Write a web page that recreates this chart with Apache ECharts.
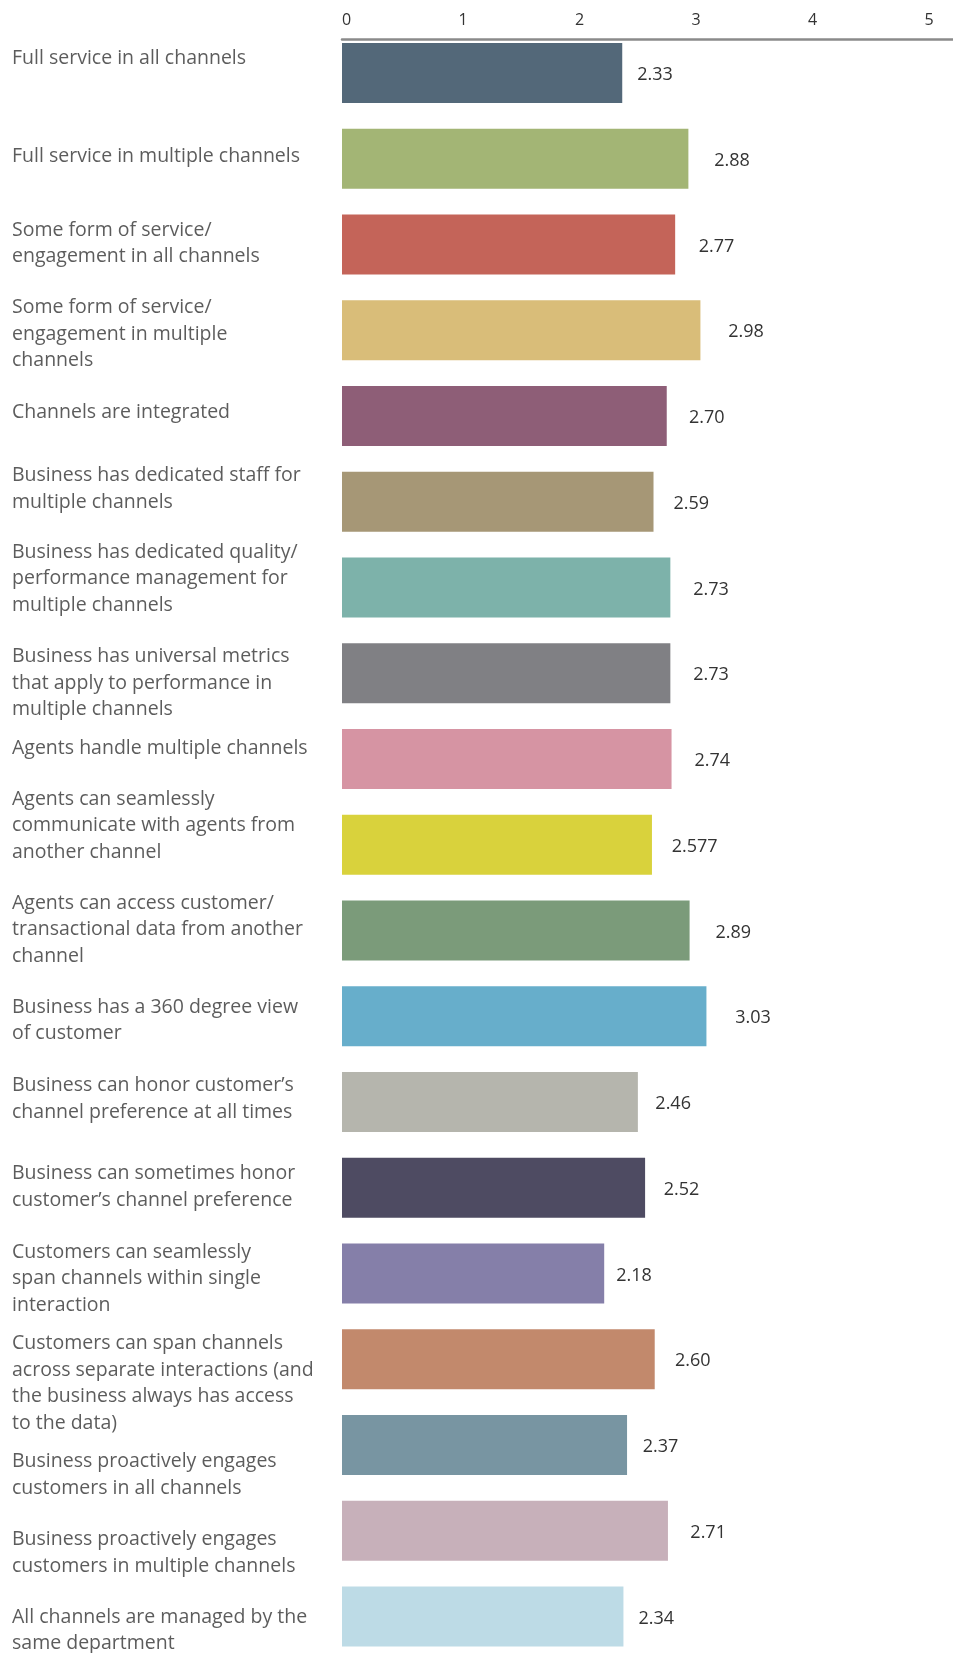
<!DOCTYPE html>
<html>
<head>
<meta charset="utf-8">
<script src="https://cdn.jsdelivr.net/npm/echarts@6/dist/echarts.min.js"></script>
<style>
  html, body { margin: 0; padding: 0; background: #ffffff; }
  #chart { width: 953px; height: 1653px; }
</style>
</head>
<body>
<div id="chart"></div>
<script>
// Omnichannel capability statements and their average scores (0–5 scale)
const categories = [
  "Full service in all channels",
  "Full service in multiple channels",
  "Some form of service/\nengagement in all channels",
  "Some form of service/\nengagement in multiple\nchannels",
  "Channels are integrated",
  "Business has dedicated staff for\nmultiple channels",
  "Business has dedicated quality/\nperformance management for\nmultiple channels",
  "Business has universal metrics\nthat apply to performance in\nmultiple channels",
  "Agents handle multiple channels",
  "Agents can seamlessly\ncommunicate with agents from\nanother channel",
  "Agents can access customer/\ntransactional data from another\nchannel",
  "Business has a 360 degree view\nof customer",
  "Business can honor customer\u2019s\nchannel preference at all times",
  "Business can sometimes honor\ncustomer\u2019s channel preference",
  "Customers can seamlessly\nspan channels within single\ninteraction",
  "Customers can span channels\nacross separate interactions (and\nthe business always has access\nto the data)",
  "Business proactively engages\ncustomers in all channels",
  "Business proactively engages\ncustomers in multiple channels",
  "All channels are managed by the\nsame department"
];

const scores = [
  2.33, 2.88, 2.77, 2.98, 2.70, 2.59, 2.73, 2.73, 2.74, 2.577,
  2.89, 3.03, 2.46, 2.52, 2.18, 2.60, 2.37, 2.71, 2.34
];

const barColors = [
  "#536879", "#a3b575", "#c46459", "#d9bd79", "#8e5e77",
  "#a69776", "#7db2aa", "#808084", "#d694a3", "#d9d23c",
  "#7b9b7a", "#67aecb", "#b5b5ad", "#4e4b62", "#857fa9",
  "#c2896c", "#7895a2", "#c7b0ba", "#bddbe6"
];

const tickLabels = [0, 1, 2, 3, 4, 5];

// ---- presentation ----
const FONT = '"Open Sans", "Noto Sans", sans-serif';
const TEXT = "#333333";

// captions sit a little above or below the middle of their bar
const captionShift = [-15, -2, -1, 4, -4, -13, -9, 10, -11, -19, -1, 4, -3, -1, 5, 24, 30, 22, 14];

function formatScore(v) {
  const decimals = (String(v).split(".")[1] || "").length;
  return decimals >= 2 ? String(v) : v.toFixed(2);
}

const barData = scores.map((v, i) => ({
  value: v,
  itemStyle: { color: barColors[i] },
  // value captions spread a little further out as the score grows
  label: { distance: Math.max(8, 19.7 * v - 31) }
}));

// one invisible anchor per row at the zero line, carrying the row caption
const captionData = categories.map((name, i) => ({
  value: [0, name],
  label: { offset: [0, captionShift[i]] }
}));

const chart = echarts.init(document.getElementById("chart"), null, { renderer: "canvas" });

chart.setOption({
  animation: false,
  backgroundColor: "#ffffff",
  textStyle: { fontFamily: FONT },
  grid: [
    { left: 342, right: 0, top: 30.1, bottom: -6.4, outerBoundsMode: "none", containLabel: false },
    { left: 346.5, right: 24, top: 39, height: 10, outerBoundsMode: "none", containLabel: false }
  ],
  xAxis: [
    {
      gridIndex: 0,
      type: "value",
      min: 0,
      max: 5.08,
      position: "top",
      offset: -9,
      axisLine: { show: true, lineStyle: { color: "#8a8a8a", width: 2.5 } },
      axisTick: { show: false },
      axisLabel: { show: false },
      splitLine: { show: false }
    },
    {
      gridIndex: 1,
      type: "value",
      min: tickLabels[0],
      max: tickLabels[tickLabels.length - 1],
      interval: 1,
      position: "top",
      axisLine: { show: false },
      axisTick: { show: false },
      splitLine: { show: false },
      axisLabel: {
        show: true,
        margin: 11,
        fontSize: 16,
        color: TEXT,
        fontFamily: FONT,
        showMinLabel: true,
        showMaxLabel: true
      }
    }
  ],
  yAxis: [
    {
      gridIndex: 0,
      type: "category",
      inverse: true,
      data: categories,
      axisLine: { show: false },
      axisTick: { show: false },
      splitLine: { show: false },
      axisLabel: { show: false }
    },
    { gridIndex: 1, type: "value", show: false }
  ],
  series: [
    {
      type: "bar",
      xAxisIndex: 0,
      yAxisIndex: 0,
      barWidth: 60,
      data: barData,
      label: {
        show: true,
        position: "right",
        offset: [0, 2],
        fontSize: 18,
        color: TEXT,
        fontFamily: FONT,
        formatter: p => formatScore(p.value)
      }
    },
    {
      type: "scatter",
      xAxisIndex: 0,
      yAxisIndex: 0,
      symbolSize: 0,
      silent: true,
      z: 5,
      data: captionData,
      label: {
        show: true,
        position: [-330, 0],
        align: "left",
        verticalAlign: "middle",
        fontSize: 19.5,
        lineHeight: 26.5,
        color: TEXT,
        fontFamily: FONT,
        formatter: p => p.value[1]
      }
    }
  ]
});
</script>
</body>
</html>
